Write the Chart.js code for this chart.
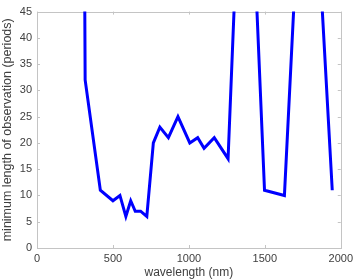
<!DOCTYPE html>
<html><head><meta charset="utf-8">
<script src="https://cdn.jsdelivr.net/npm/chart.js@4"></script>
<style>html,body{margin:0;padding:0;background:#fff}#w{width:357px;height:280px}</style>
</head><body><div id="w"><canvas id="c"></canvas></div>
<script>
const wavelengths = [305, 317, 417, 500, 546, 585, 617, 647, 682, 723, 766, 809, 865, 928, 1006, 1058, 1100, 1167, 1258, 1371, 1498, 1629, 1779, 1944];
const periods     = [100, 32, 11, 9, 10, 6, 9, 7, 7, 6, 20, 23, 21, 25, 20, 21, 19, 21, 17, 98, 11, 10, 97, 11];
const xTicks = [0, 500, 1000, 1500, 2000];
const yTicks = [0, 5, 10, 15, 20, 25, 30, 35, 40, 45];

const points = wavelengths.map((w, i) => ({x: w, y: periods[i]}));
const frameColor = '#c4c4c4';
const textColor = '#404040';

const framePlugin = {
  id: 'frame',
  beforeDatasetsDraw(chart) {
    const {ctx, chartArea: a, scales: {x, y}} = chart;
    ctx.save();
    ctx.strokeStyle = frameColor;
    ctx.lineWidth = 1;
    ctx.strokeRect(Math.round(a.left) + 0.5, Math.round(a.top) + 0.5, Math.round(a.right - a.left), Math.round(a.bottom - a.top));
    ctx.beginPath();
    const t = 3;
    xTicks.forEach(v => {
      const px = Math.round(x.getPixelForValue(v)) + 0.5;
      ctx.moveTo(px, a.bottom); ctx.lineTo(px, a.bottom - t);
      ctx.moveTo(px, a.top); ctx.lineTo(px, a.top + t);
    });
    yTicks.forEach(v => {
      const py = Math.round(y.getPixelForValue(v)) + 0.5;
      ctx.moveTo(a.left, py); ctx.lineTo(a.left + t, py);
      ctx.moveTo(a.right, py); ctx.lineTo(a.right - t, py);
    });
    ctx.stroke();
    ctx.restore();
  }
};

new Chart(document.getElementById('c'), {
  type: 'scatter',
  data: { datasets: [{
    data: points, showLine: true, borderColor: '#0000ff', backgroundColor: '#0000ff',
    borderWidth: 3, pointRadius: 0, tension: 0, borderJoinStyle: 'miter'
  }]},
  plugins: [framePlugin],
  options: {
    responsive: true, maintainAspectRatio: false, animation: false,
    layout: { padding: { left: 0, right: 11, top: 4, bottom: 0 } },
    plugins: { legend: { display: false }, tooltip: { enabled: false } },
    scales: {
      x: {
        type: 'linear', min: 0, max: 2000,
        afterBuildTicks(s) { s.ticks = xTicks.map(v => ({value: v})); },
        afterFit(s) { s.height = 32; },
        grid: { display: false, drawTicks: false },
        border: { display: false },
        ticks: { color: textColor, font: { family: 'Liberation Sans', size: 11 }, padding: 4, maxRotation: 0, callback: v => String(v) },
        title: { display: true, text: 'wavelength (nm)', color: textColor, font: { family: 'Liberation Sans', size: 12 }, padding: { top: 2, bottom: 0 } }
      },
      y: {
        type: 'linear', min: 0, max: 45,
        afterBuildTicks(s) { s.ticks = yTicks.map(v => ({value: v})); },
        afterFit(s) { s.width = 37; },
        grid: { display: false, drawTicks: false },
        border: { display: false },
        ticks: { color: textColor, font: { family: 'Liberation Sans', size: 11 }, padding: 5, callback: v => String(v) },
        title: { display: true, text: 'minimum length of observation (periods)', color: textColor, font: { family: 'Liberation Sans', size: 12.5 }, padding: { top: 0, bottom: 0 } }
      }
    }
  }
});
</script></body></html>
